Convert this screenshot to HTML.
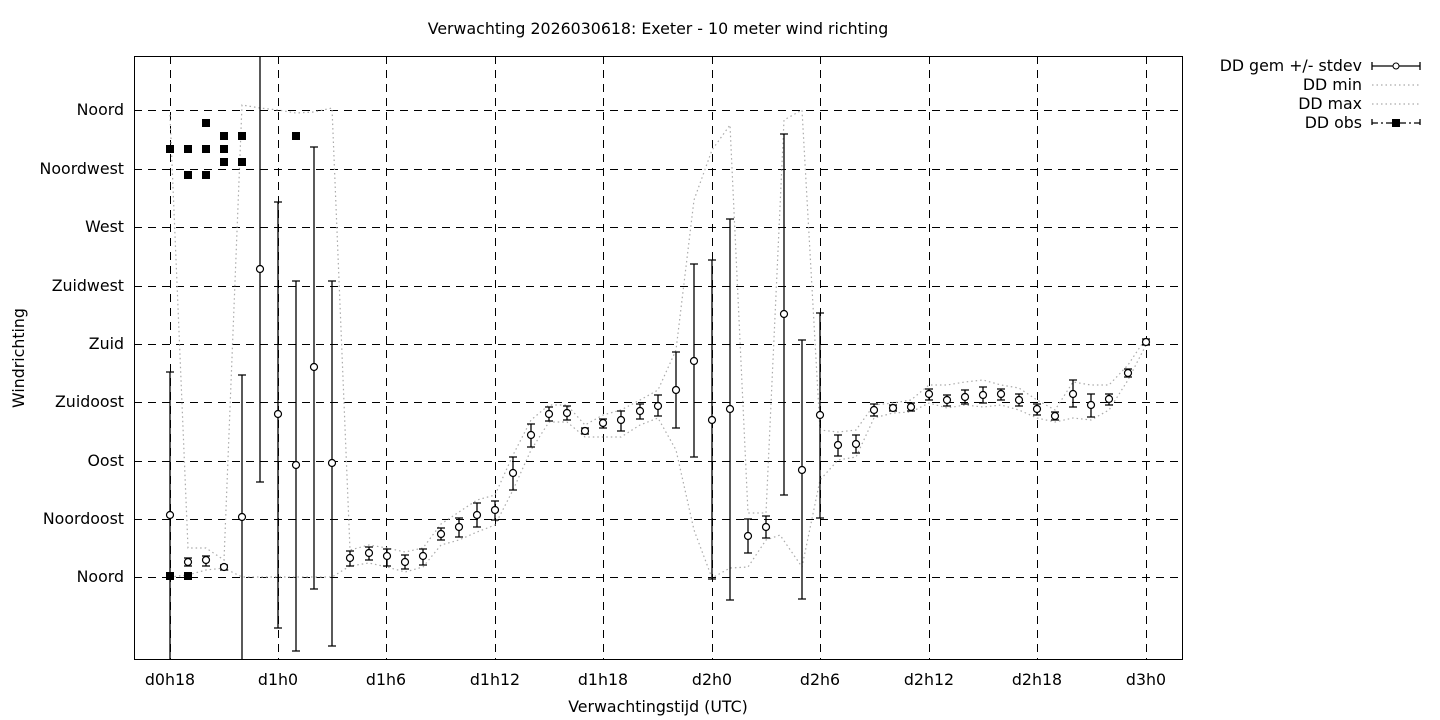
<!DOCTYPE html>
<html><head><meta charset="utf-8"><style>
body{margin:0;background:#fff}
svg{display:block;font-family:"DejaVu Sans","Liberation Sans",sans-serif}
</style></head><body>
<svg width="1440" height="720" viewBox="0 0 1440 720" xmlns="http://www.w3.org/2000/svg">
<rect width="1440" height="720" fill="#fff"/>
<text x="658" y="34" font-size="15.8" text-anchor="middle">Verwachting 2026030618: Exeter - 10 meter wind richting</text>
<g stroke="#000" stroke-width="1" stroke-dasharray="8,6" fill="none" shape-rendering="crispEdges">
<path d="M134 110.5H1182M134 169.5H1182M134 227.5H1182M134 286.5H1182M134 344.5H1182M134 402.5H1182M134 461.5H1182M134 519.5H1182M134 577.5H1182"/>
<path d="M170.5 56V659M278.5 56V659M386.5 56V659M495.5 56V659M603.5 56V659M712.5 56V659M820.5 56V659M929.5 56V659M1037.5 56V659M1146.5 56V659"/>
</g>
<rect x="134.5" y="56.5" width="1048" height="603" fill="none" stroke="#000" shape-rendering="crispEdges"/>
<g font-size="15.8" text-anchor="end">
<text x="124" y="115">Noord</text><text x="124" y="174">Noordwest</text><text x="124" y="232">West</text><text x="124" y="291">Zuidwest</text><text x="124" y="349">Zuid</text><text x="124" y="407">Zuidoost</text><text x="124" y="466">Oost</text><text x="124" y="524">Noordoost</text><text x="124" y="582">Noord</text>
</g>
<g font-size="15.8" text-anchor="middle">
<text x="170" y="685">d0h18</text><text x="278" y="685">d1h0</text><text x="386" y="685">d1h6</text><text x="495" y="685">d1h12</text><text x="603" y="685">d1h18</text><text x="712" y="685">d2h0</text><text x="820" y="685">d2h6</text><text x="929" y="685">d2h12</text><text x="1037" y="685">d2h18</text><text x="1146" y="685">d3h0</text>
<text x="658" y="712">Verwachtingstijd (UTC)</text>
</g>
<text x="24" y="358" font-size="15.8" text-anchor="middle" transform="rotate(-90 24 358)">Windrichting</text>
<g fill="none" stroke="#aaa" stroke-width="1.2" stroke-dasharray="1.5,3">
<polyline points="170,115 188,548 206,548 224,560 242,105 260,108 278,110 296,113 314,112 332,108 350,550 369,545 387,548 405,552 423,548 441,524 459,512 477,500 495,495 513,455 531,420 549,405 567,405 585,425 603,415 621,410 640,400 658,390 676,350 694,200 712,150 730,125 748,513 766,513 784,120 802,110 820,430 838,432 856,430 874,405 893,403 911,400 929,385 947,385 965,382 983,380 1001,385 1019,388 1037,400 1055,410 1073,382 1091,385 1109,385 1128,365 1146,338"/>
<polyline points="170,577 188,575 206,570 224,568 242,577 260,577 278,577 296,577 314,577 332,577 350,566 369,563 387,567 405,572 423,567 441,545 459,540 477,532 495,525 513,490 531,450 549,422 567,422 585,437 603,437 621,437 640,425 658,418 676,450 694,530 712,578 730,568 748,567 766,540 780,535 802,567 820,480 838,460 856,457 874,418 893,413 911,412 929,403 947,408 965,405 983,407 1001,405 1019,410 1037,418 1055,422 1073,418 1091,420 1109,410 1128,380 1146,345"/>
</g>
<g stroke="#000" stroke-width="1.3" fill="none">
<path d="M170 372V659M166 372H174
M188 558V566M184 558H192M184 566H192
M206 556V566M202 556H210M202 566H210
M224 565V570M220 565H228M220 570H228
M242 375V659M238 375H246
M260 56V482M256 482H264
M278 202V628M274 202H282M274 628H282
M296 281V651M292 281H300M292 651H300
M314 147V589M310 147H318M310 589H318
M332 281V646M328 281H336M328 646H336
M350 551V566M346 551H354M346 566H354
M369 547V560M365 547H373M365 560H373
M387 549V566M383 549H391M383 566H391
M405 555V569M401 555H409M401 569H409
M423 549V565M419 549H427M419 565H427
M441 528V540M437 528H445M437 540H445
M459 518V537M455 518H463M455 537H463
M477 503V527M473 503H481M473 527H481
M495 501V520M491 501H499M491 520H499
M513 457V490M509 457H517M509 490H517
M531 424V447M527 424H535M527 447H535
M549 407V421M545 407H553M545 421H553
M567 406V420M563 406H571M563 420H571
M585 428V434M581 428H589M581 434H589
M603 419V428M599 419H607M599 428H607
M621 411V431M617 411H625M617 431H625
M640 404V419M636 404H644M636 419H644
M658 395V416M654 395H662M654 416H662
M676 352V428M672 352H680M672 428H680
M694 264V457M690 264H698M690 457H698
M712 260V579M708 260H716M708 579H716
M730 219V600M726 219H734M726 600H734
M748 519V553M744 519H752M744 553H752
M766 516V538M762 516H770M762 538H770
M784 134V495M780 134H788M780 495H788
M802 340V599M798 340H806M798 599H806
M820 313V518M816 313H824M816 518H824
M838 435V456M834 435H842M834 456H842
M856 435V453M852 435H860M852 453H860
M874 404V416M870 404H878M870 416H878
M893 405V411M889 405H897M889 411H897
M911 403V411M907 403H915M907 411H915
M929 389V400M925 389H933M925 400H933
M947 395V406M943 395H951M943 406H951
M965 390V404M961 390H969M961 404H969
M983 387V403M979 387H987M979 403H987
M1001 389V400M997 389H1005M997 400H1005
M1019 394V406M1015 394H1023M1015 406H1023
M1037 404V415M1033 404H1041M1033 415H1041
M1055 412V420M1051 412H1059M1051 420H1059
M1073 380V407M1069 380H1077M1069 407H1077
M1091 394V417M1087 394H1095M1087 417H1095
M1109 394V405M1105 394H1113M1105 405H1113
M1128 369V377M1124 369H1132M1124 377H1132
M1146 339V345M1142 339H1150M1142 345H1150"/>
</g>
<g fill="#fff" stroke="#000" stroke-width="1.2">
<circle cx="170" cy="515" r="3.5"/><circle cx="188" cy="562" r="3.5"/><circle cx="206" cy="560" r="3.5"/><circle cx="224" cy="567" r="3.5"/><circle cx="242" cy="517" r="3.5"/><circle cx="260" cy="269" r="3.5"/><circle cx="278" cy="414" r="3.5"/><circle cx="296" cy="465" r="3.5"/><circle cx="314" cy="367" r="3.5"/><circle cx="332" cy="463" r="3.5"/><circle cx="350" cy="558" r="3.5"/><circle cx="369" cy="553" r="3.5"/><circle cx="387" cy="556" r="3.5"/><circle cx="405" cy="562" r="3.5"/><circle cx="423" cy="556" r="3.5"/><circle cx="441" cy="534" r="3.5"/><circle cx="459" cy="527" r="3.5"/><circle cx="477" cy="515" r="3.5"/><circle cx="495" cy="510" r="3.5"/><circle cx="513" cy="473" r="3.5"/><circle cx="531" cy="435" r="3.5"/><circle cx="549" cy="414" r="3.5"/><circle cx="567" cy="413" r="3.5"/><circle cx="585" cy="431" r="3.5"/><circle cx="603" cy="423" r="3.5"/><circle cx="621" cy="420" r="3.5"/><circle cx="640" cy="411" r="3.5"/><circle cx="658" cy="406" r="3.5"/><circle cx="676" cy="390" r="3.5"/><circle cx="694" cy="361" r="3.5"/><circle cx="712" cy="420" r="3.5"/><circle cx="730" cy="409" r="3.5"/><circle cx="748" cy="536" r="3.5"/><circle cx="766" cy="527" r="3.5"/><circle cx="784" cy="314" r="3.5"/><circle cx="802" cy="470" r="3.5"/><circle cx="820" cy="415" r="3.5"/><circle cx="838" cy="445" r="3.5"/><circle cx="856" cy="444" r="3.5"/><circle cx="874" cy="410" r="3.5"/><circle cx="893" cy="408" r="3.5"/><circle cx="911" cy="407" r="3.5"/><circle cx="929" cy="394" r="3.5"/><circle cx="947" cy="400" r="3.5"/><circle cx="965" cy="397" r="3.5"/><circle cx="983" cy="395" r="3.5"/><circle cx="1001" cy="394" r="3.5"/><circle cx="1019" cy="400" r="3.5"/><circle cx="1037" cy="409" r="3.5"/><circle cx="1055" cy="416" r="3.5"/><circle cx="1073" cy="394" r="3.5"/><circle cx="1091" cy="405" r="3.5"/><circle cx="1109" cy="399" r="3.5"/><circle cx="1128" cy="373" r="3.5"/><circle cx="1146" cy="342" r="3.5"/>
</g>
<g fill="#000">
<rect x="166" y="145" width="8" height="8"/><rect x="184" y="145" width="8" height="8"/><rect x="202" y="145" width="8" height="8"/><rect x="220" y="145" width="8" height="8"/><rect x="202" y="119" width="8" height="8"/><rect x="220" y="132" width="8" height="8"/><rect x="238" y="132" width="8" height="8"/><rect x="220" y="158" width="8" height="8"/><rect x="238" y="158" width="8" height="8"/><rect x="184" y="171" width="8" height="8"/><rect x="202" y="171" width="8" height="8"/><rect x="292" y="132" width="8" height="8"/><rect x="166" y="572" width="8" height="8"/><rect x="184" y="572" width="8" height="8"/>
</g>
<g font-size="15.8" text-anchor="end">
<text x="1362" y="71">DD gem +/- stdev</text><text x="1362" y="90">DD min</text><text x="1362" y="109">DD max</text><text x="1362" y="128">DD obs</text>
</g>
<g stroke="#000" stroke-width="1.3" fill="none">
<path d="M1372 66H1420M1372 62V70M1420 62V70"/>
<path d="M1372 123H1420M1372 119V127M1420 119V127" stroke-dasharray="6,3,2,3"/>
</g>
<circle cx="1396" cy="66" r="3" fill="#fff" stroke="#000"/>
<rect x="1392" y="119" width="8" height="8" fill="#000"/>
<g stroke="#aaa" stroke-width="1.2" stroke-dasharray="1.5,3">
<path d="M1372 85H1420M1372 104H1420"/>
</g>
</svg>
</body></html>
